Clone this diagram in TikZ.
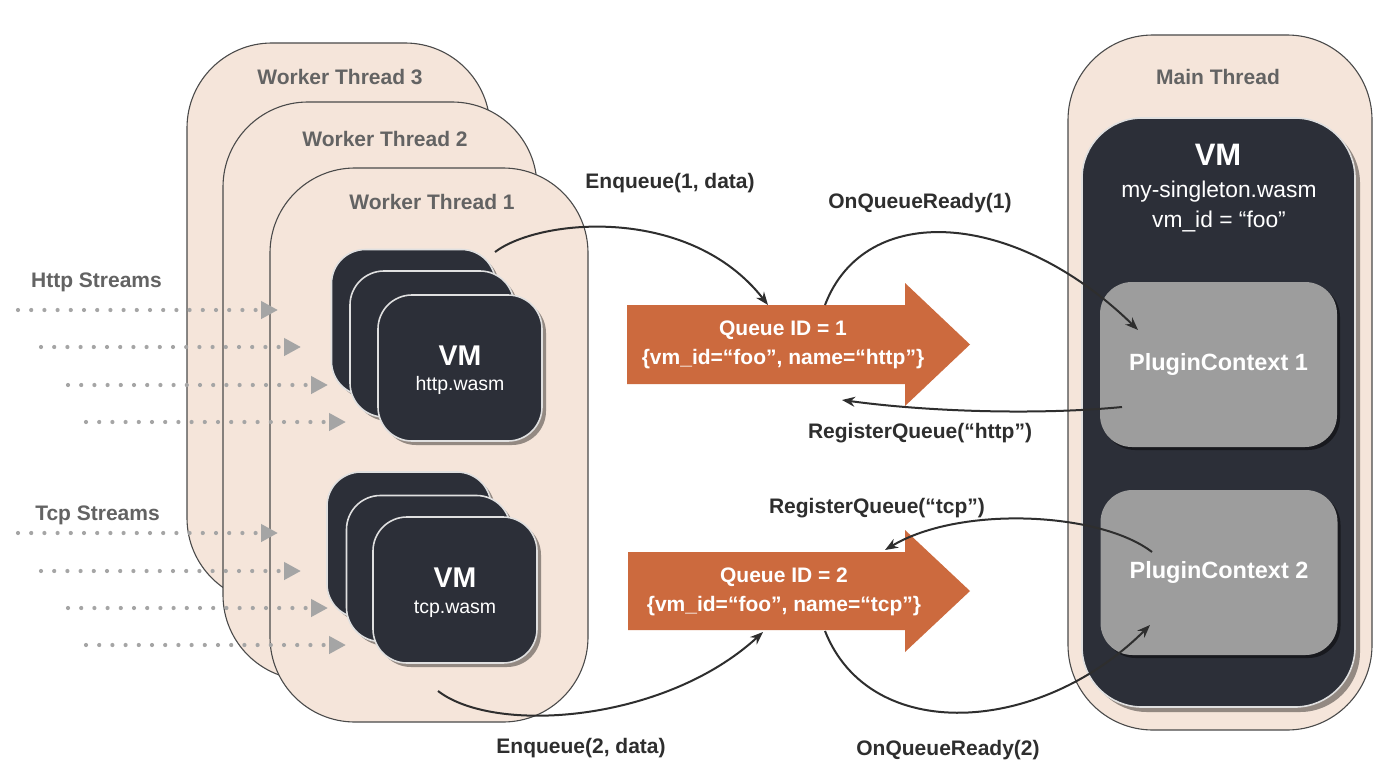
\documentclass[tikz,border=0pt]{standalone}
\usepackage{fontspec}
\setmainfont{Liberation Sans}
\usetikzlibrary{arrows.meta,shadows}
\definecolor{peach}{HTML}{F5E5DA}
\definecolor{vmdark}{HTML}{2C2F38}
\definecolor{pcgrey}{HTML}{9D9D9D}
\definecolor{qorange}{HTML}{CC6A3E}
\definecolor{lbltext}{HTML}{2E2E2E}
\definecolor{wtext}{HTML}{636363}
\definecolor{dotgrey}{HTML}{A5A5A5}
\definecolor{edgegrey}{HTML}{4A4A4A}
\newcommand{\fsz}[2]{\fontsize{#1bp}{#2bp}\selectfont}
\begin{document}
\begin{tikzpicture}[x=1bp,y=-1bp,
  threadbox/.style={draw=edgegrey, line width=1.1bp, fill=peach, rounded corners=85bp, inner sep=0pt},
  threadlabel/.style={text=wtext, font=\fsz{21}{25}\bfseries},
  vmbox/.style={fill=vmdark, draw=white!88!black, line width=1.6bp, rounded corners=34bp,
    minimum width=164bp, minimum height=146bp, inner sep=0pt,
    drop shadow={shadow xshift=4bp, shadow yshift=-4bp, fill=black, opacity=0.4}},
  vmtitle/.style={text=white, font=\fsz{28.5}{32}\bfseries},
  vmfile/.style={text=white, font=\fsz{19.5}{23}},
  stream/.style={draw=dotgrey, line width=4.2bp, line cap=round, dash pattern=on 0bp off 13.2bp,
    -{Triangle[length=17bp,width=17bp]}},
  streamlabel/.style={text=wtext, font=\fsz{21}{25}\bfseries},
  qarrow/.style={fill=qorange},
  qtext/.style={text=white, font=\fsz{21}{29}\bfseries, align=center},
  pcbox/.style={fill=pcgrey, rounded corners=32bp, minimum width=237bp, minimum height=165bp,
    inner sep=0pt, text=white, font=\fsz{23.5}{28}\bfseries,
    drop shadow={shadow xshift=3bp, shadow yshift=-3bp, fill=black, opacity=0.45}},
  conn/.style={draw=lbltext, line width=2bp, -{Stealth[length=13bp,width=10bp]}},
  connlabel/.style={text=lbltext, font=\fsz{21}{25}\bfseries}
]
\useasboundingbox[fill=white] (0,0) rectangle (1400,769);

% ---------- worker threads ----------
\node[threadbox, minimum width=303bp, minimum height=560bp] (wt3) at (338.5,323) {};
\node[threadlabel] (wt3l) at (340,77) {Worker Thread 3};
\node[threadbox, minimum width=314bp, minimum height=578bp] (wt2) at (380,391) {};
\node[threadlabel] (wt2l) at (385,139) {Worker Thread 2};
\node[threadbox, minimum width=318bp, minimum height=554bp] (wt1) at (429,445) {};
\node[threadlabel] (wt1l) at (432,202) {Worker Thread 1};

% ---------- worker VMs ----------
\node[vmbox] (hb1) at (413.5,322.5) {};
\node[vmbox] (hb2) at (432,344) {};
\node[vmbox] (hb3) at (460,368) {};
\node[vmtitle] (hvm) at (460,356) {VM};
\node[vmfile] (hfile) at (460,385) {http.wasm};

\node[vmbox] (tb1) at (409,545) {};
\node[vmbox] (tb2) at (428.5,568.5) {};
\node[vmbox] (tb3) at (455,590) {};
\node[vmtitle] (tvm) at (455,578) {VM};
\node[vmfile] (tfile) at (455,609) {tcp.wasm};

% ---------- streams ----------
\node[streamlabel] (hsl) at (96.5,282) {Http Streams};
\foreach \y/\xs/\xe [count=\i] in {310/18/278, 347/41/301, 385/68/328, 422/86/346}{
  \coordinate (hs\i) at (\xs,\y);
  \coordinate (he\i) at (\xe,\y);
  \draw[stream] (hs\i) -- (he\i);
}
\node[streamlabel] (tsl) at (97.5,515) {Tcp Streams};
\foreach \y/\xs/\xe [count=\i] in {533/18/278, 571/41/301, 608/68/328, 645/86/346}{
  \coordinate (ts\i) at (\xs,\y);
  \coordinate (te\i) at (\xe,\y);
  \draw[stream] (ts\i) -- (te\i);
}

% ---------- queues ----------
\fill[qarrow] (627,305) -- (905,305) -- (905,283) -- (970,344.5) -- (905,406) -- (905,384) -- (627,384) -- cycle;
\node[qtext] (q1) at (783,344.5) {Queue ID = 1\\\{vm\_id=“foo”, name=“http”\}};
\fill[qarrow] (628,552) -- (905,552) -- (905,530) -- (970,591) -- (905,652) -- (905,630) -- (628,630) -- cycle;
\node[qtext] (q2) at (784,592) {Queue ID = 2\\\{vm\_id=“foo”, name=“tcp”\}};

\coordinate (q1in) at (768,305);
\coordinate (q1out) at (825,305);
\coordinate (q1reg) at (842,400);
\coordinate (q2in) at (763,632);
\coordinate (q2out) at (825,631);
\coordinate (q2reg) at (885,550);

% ---------- main thread ----------
\node[threadbox, minimum width=304bp, minimum height=695bp] (mt) at (1220,382.5) {};
\node[threadlabel] (mtl) at (1218,77) {Main Thread};
\node[fill=vmdark, draw=white!88!black, line width=1.6bp, rounded corners=60bp,
  minimum width=273bp, minimum height=589bp, inner sep=0pt,
  drop shadow={shadow xshift=5bp, shadow yshift=-5bp, fill=black, opacity=0.4}] (mvm) at (1218.5,412.5) {};
\node[text=white, font=\fsz{31}{35}\bfseries] (mvmt) at (1218,155) {VM};
\node[text=white, font=\fsz{22.8}{27}] (mfile) at (1219,192) {my-singleton.wasm};
\node[text=white, font=\fsz{22.8}{27}] (mid) at (1219,222) {vm\_id = “foo”};

\node[pcbox] (pc1) at (1218.5,364.5) {PluginContext 1};
\node[pcbox] (pc2) at (1219,572.5) {PluginContext 2};

\coordinate (pc1in) at (1138,330);
\coordinate (pc1out) at (1122,407);
\coordinate (pc2out) at (1152,552);
\coordinate (pc2in) at (1150,625);
\coordinate (hout) at (495,252);
\coordinate (tout) at (438,691);

% ---------- connectors ----------
\draw[conn] (hout) .. controls (540,218) and (690,205) .. (q1in);
\node[connlabel] (l1) at (670,183) {Enqueue(1, data)};
\draw[conn] (q1out) .. controls (865,200) and (1015,210) .. (pc1in);
\node[connlabel] (l2) at (920,203) {OnQueueReady(1)};
\draw[conn] (pc1out) .. controls (1040,415) and (930,412) .. (q1reg);
\node[connlabel] (l3) at (920,433) {RegisterQueue(“http”)};
\draw[conn] (pc2out) .. controls (1100,512) and (960,505) .. (q2reg);
\node[connlabel] (l4) at (877,508) {RegisterQueue(“tcp”)};
\draw[conn] (tout) .. controls (495,735) and (665,722) .. (q2in);
\node[connlabel] (l5) at (581,748) {Enqueue(2, data)};
\draw[conn] (q2out) .. controls (870,745) and (1040,735) .. (pc2in);
\node[connlabel] (l6) at (948,750) {OnQueueReady(2)};
\end{tikzpicture}
\end{document}
